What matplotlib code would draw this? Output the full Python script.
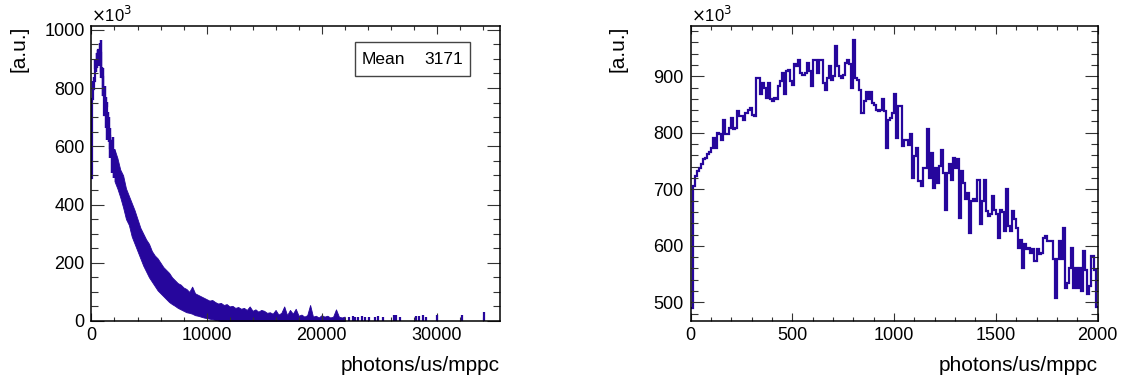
import numpy as np
import matplotlib.pyplot as plt
from matplotlib.ticker import MultipleLocator
from matplotlib.patches import Rectangle

plt.rcParams['font.family'] = ['Liberation Sans', 'DejaVu Sans']

# histogram content, 10 photons/us/mppc per bin from 0 to 2000, in 10^3 a.u.
bin_width = 10
zoom_counts = [
    490, 706, 724, 732, 738, 744, 754, 756, 762, 766,
    773, 791, 773, 800, 797, 788, 823, 797, 797, 809,
    826, 806, 809, 838, 829, 829, 823, 835, 841, 844,
    832, 829, 897, 897, 868, 888, 879, 862, 888, 859,
    856, 862, 859, 882, 891, 906, 868, 909, 912, 891,
    885, 921, 918, 929, 906, 903, 906, 924, 909, 882,
    929, 929, 906, 929, 929, 888, 876, 897, 918, 894,
    900, 953, 918, 900, 897, 903, 924, 929, 921, 879,
    965, 897, 894, 876, 835, 856, 873, 859, 873, 853,
    850, 841, 838, 841, 859, 838, 773, 823, 826, 835,
    868, 791, 847, 847, 776, 788, 788, 779, 797, 720,
    759, 773, 714, 706, 738, 738, 806, 720, 765, 703,
    738, 712, 741, 770, 729, 664, 729, 744, 717, 756,
    738, 753, 650, 732, 712, 682, 694, 623, 679, 682,
    679, 717, 638, 679, 717, 662, 653, 656, 688, 664,
    656, 614, 664, 659, 626, 700, 635, 626, 662, 647,
    632, 597, 611, 561, 603, 594, 597, 588, 594, 573,
    594, 585, 588, 614, 617, 609, 609, 609, 576, 508,
    576, 609, 576, 632, 526, 535, 561, 597, 526, 561,
    526, 561, 520, 591, 558, 514, 529, 582, 558, 491,
]

# full range above 2000: lower / upper edge of the dense band, every 250 units
env_start = 2000
env_step = 250
env_lo = [
    480, 455, 425, 390, 350, 330, 290, 265, 240, 215,
    190, 170, 150, 135, 120, 105, 95, 85, 75, 65,
    58, 52, 45, 40, 35, 30, 28, 25, 20, 18,
    15, 12, 10, 8, 6, 4, 2, 0, 0, 0,
    0, 0, 0, 0, 0, 0, 0, 0, 0, 0,
    0, 0, 0, 0, 0, 0, 0, 0, 0, 0,
    0, 0, 0, 0, 0, 0, 0, 0, 0, 0,
    0, 0, 0, 0, 0, 0, 0, 0, 0, 0,
    0,
]
env_hi = [
    590, 560, 520, 500, 455, 430, 405, 380, 350, 320,
    300, 280, 265, 240, 225, 215, 200, 185, 175, 165,
    150, 140, 130, 125, 115, 110, 100, 118, 95, 90,
    85, 80, 75, 70, 72, 65, 60, 62, 55, 58,
    50, 52, 45, 48, 42, 45, 38, 50, 35, 40,
    32, 38, 35, 28, 30, 25, 38, 22, 28, 50,
    20, 38, 25, 42, 18, 22, 15, 20, 55, 15,
    18, 12, 20, 15, 18, 12, 15, 40, 15, 12,
    15,
]

# isolated entries in the far tail
tail_x = [22400, 22700, 22900, 23200, 23500, 23800, 24100, 24600, 24900, 25300,
          26300, 26500, 26800, 28200, 28500, 28800, 29100, 30000, 32200, 34100]
tail_h = [15, 18, 12, 15, 18, 12, 15, 15, 18, 15,
          20, 20, 15, 18, 18, 20, 15, 20, 20, 32]

mean_value = 3171

color = '#26069c'
edges = np.arange(len(zoom_counts) + 1) * bin_width
env_x = env_start + np.arange(len(env_lo)) * env_step

fig = plt.figure(figsize=(11.21, 3.81), dpi=100)
ax1 = fig.add_axes([0.0816, 0.1575, 0.3644, 0.7743])
ax2 = fig.add_axes([0.616, 0.1575, 0.3631, 0.7743])

# left: full range
ax1.stairs(zoom_counts, edges, color=color, lw=1.6, baseline=None)
ax1.fill_between(env_x, env_lo, env_hi, color=color, lw=0.6)
ax1.vlines(tail_x, 0, tail_h, color=color, lw=1.6)
ax1.set_xlim(0, 35500)
ax1.set_ylim(0, 1013)
ax1.xaxis.set_major_locator(MultipleLocator(10000))
ax1.xaxis.set_minor_locator(MultipleLocator(2000))
ax1.yaxis.set_major_locator(MultipleLocator(200))
ax1.yaxis.set_minor_locator(MultipleLocator(50))

ax1.add_patch(Rectangle((0.645, 0.83), 0.282, 0.116, transform=ax1.transAxes,
                        facecolor='white', edgecolor='#444444', lw=1.0, zorder=5))
ax1.text(0.662, 0.888, 'Mean', transform=ax1.transAxes, ha='left', va='center',
         fontsize=12.5, zorder=6)
ax1.text(0.909, 0.888, str(mean_value), transform=ax1.transAxes, ha='right',
         va='center', fontsize=12.5, zorder=6)

# right: zoom 0-2000
ax2.stairs(zoom_counts, edges, color=color, lw=1.6, baseline=None)
ax2.set_xlim(0, 2000)
ax2.set_ylim(467, 989)
ax2.xaxis.set_major_locator(MultipleLocator(500))
ax2.xaxis.set_minor_locator(MultipleLocator(100))
ax2.yaxis.set_major_locator(MultipleLocator(100))
ax2.yaxis.set_minor_locator(MultipleLocator(20))

for ax in (ax1, ax2):
    for s in ax.spines.values():
        s.set_linewidth(1.1)
    ax.tick_params(which='both', direction='in', top=True, right=True,
                   labelsize=13, color='#333333', width=0.8)
    ax.tick_params(axis='y', which='major', length=9.4, pad=5)
    ax.tick_params(axis='y', which='minor', length=4.7)
    ax.tick_params(axis='x', which='major', length=5.8, pad=4.5)
    ax.tick_params(axis='x', which='minor', length=2.9)
    ax.set_xlabel('photons/us/mppc', fontsize=15, loc='right')
    ax.xaxis.set_label_coords(1.0, -0.12)
    ax.set_ylabel('[a.u.]', fontsize=15, loc='top')
    ax.yaxis.set_label_coords(-0.155, 1.0)
    ax.text(0.0, 1.005, r'$\times$10$^{3}$', transform=ax.transAxes,
            ha='left', va='bottom', fontsize=12)

fig.savefig('out.png', dpi=100)
